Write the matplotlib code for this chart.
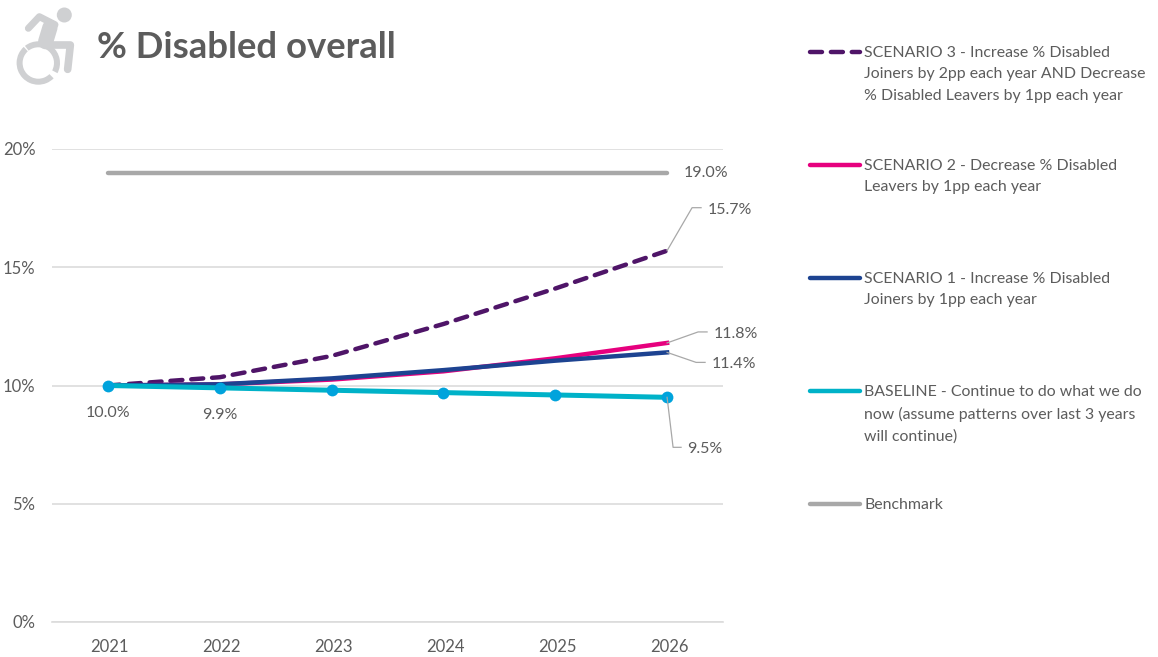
import matplotlib
matplotlib.use("Agg")
import matplotlib.pyplot as plt
from matplotlib.patches import Circle, Wedge
from matplotlib.transforms import ScaledTranslation

years = ["2021", "2022", "2023", "2024", "2025", "2026"]
benchmark = [19.0, 19.0, 19.0, 19.0, 19.0, 19.0]
scenario3 = [10.0, 10.35, 11.25, 12.6, 14.1, 15.7]
scenario2 = [10.0, 10.05, 10.25, 10.6, 11.15, 11.8]
scenario1 = [10.0, 10.05, 10.3, 10.65, 11.05, 11.4]
baseline = [10.0, 9.9, 9.8, 9.7, 9.6, 9.5]

legend_labels = [
    "SCENARIO 3 - Increase % Disabled\nJoiners by 2pp each year AND Decrease\n% Disabled Leavers by 1pp each year",
    "SCENARIO 2 - Decrease % Disabled\nLeavers by 1pp each year",
    "SCENARIO 1 - Increase % Disabled\nJoiners by 1pp each year",
    "BASELINE - Continue to do what we do\nnow (assume patterns over last 3 years\nwill continue)",
    "Benchmark",
]

PURPLE = "#4f1568"
PINK = "#e6007e"
NAVY = "#1d4391"
TEAL = "#00b2c8"
DOT = "#00a3dc"
GREY = "#a8a8a8"
TEXT = "#5c5c5c"
ICON = "#cfd0d2"

W, H = 1158, 657
plt.rcParams["font.family"] = "Lato"
fig = plt.figure(figsize=(W / 100, H / 100), dpi=100)

ax = fig.add_axes([52 / W, 1 - 622 / H, 671 / W, 473 / H])
x = list(range(len(years)))
dash = (2.7, 2.0)

ax.plot(x, benchmark, color=GREY, lw=3.2, solid_capstyle="round", zorder=3)
ax.plot(x, scenario3, color=PURPLE, lw=3.2, dashes=dash, dash_capstyle="round", zorder=3)
ax.plot(x, scenario2, color=PINK, lw=3.2, zorder=3)
ax.plot(x, scenario1, color=NAVY, lw=3.2, zorder=4)
ax.plot(x, baseline, color=TEAL, lw=3.6, zorder=5)
ax.plot(x, baseline, ls="none", marker="o", ms=8.5, color=DOT, mec="none", zorder=6)

ax.set_xlim(-0.5, 5.5)
ax.set_ylim(0, 20)
ax.set_xticks(x, years)
ax.set_yticks([0, 5, 10, 15, 20], ["0%", "5%", "10%", "15%", "20%"])
ax.grid(axis="y", color="#dcdcdc", lw=1.2)
ax.set_axisbelow(True)
ax.tick_params(length=0, labelsize=12, labelcolor=TEXT)
ax.tick_params(axis="x", pad=12)
ax.tick_params(axis="y", pad=12)
for side in ["top", "right", "left"]:
    ax.spines[side].set_visible(False)
ax.spines["bottom"].set_color("#dcdcdc")
ax.spines["bottom"].set_linewidth(1.2)

# year labels sit a touch right of their points
nudge = ScaledTranslation(2 / 100, 0, fig.dpi_scale_trans)
for lbl in ax.get_xticklabels():
    lbl.set_transform(lbl.get_transform() + nudge)

LABEL_SIZE = 11.5
ax.annotate(f"{benchmark[5]:.1f}%", (5, benchmark[5]), xytext=(12, -0.5), textcoords="offset points",
            fontsize=LABEL_SIZE, color=TEXT, va="center", ha="left")
ax.annotate(f"{baseline[0]:.1f}%", (0, baseline[0]), xytext=(0, -19.5), textcoords="offset points",
            fontsize=LABEL_SIZE, color=TEXT, ha="center", va="center")
ax.annotate(f"{baseline[1]:.1f}%", (1, baseline[1]), xytext=(0, -19.5), textcoords="offset points",
            fontsize=LABEL_SIZE, color=TEXT, ha="center", va="center")

# overlay in pixel coordinates for header icon, title, key and leaders
ov = fig.add_axes([0, 0, 1, 1], facecolor="none")
ov.set_xlim(0, W)
ov.set_ylim(H, 0)
ov.axis("off")


def leader(series, dx, dy, stub, gap):
    # elbow leader from the last point, then a short stub to the label
    px, py = ax.transData.transform((5, series[5]))
    py = H - py
    ex, ey = px + dx, py + dy
    ov.plot([px, ex, ex + stub], [py, ey, ey], color=GREY, lw=0.9, zorder=2)
    ov.text(ex + stub + gap, ey + 2, f"{series[5]:.1f}%", fontsize=LABEL_SIZE, color=TEXT,
            va="center", ha="left")


leader(scenario3, 25, -43, 9, 7)
leader(scenario2, 31, -11, 9, 7)
leader(scenario1, 29, 10, 9, 7)
leader(baseline, 6, 50, 8, 6)


# wheelchair icon
def icon_pt(u, v):
    return 5 + u / 3, v / 3


def stroke(points, width):
    xs, ys = zip(*[icon_pt(u, v) for u, v in points])
    ov.plot(xs, ys, color=ICON, lw=width, solid_capstyle="round", solid_joinstyle="round")


ov.add_patch(Circle((64.3, 15), 7.5, color=ICON, lw=0))
centre = (38.3, 63)
ov.add_patch(Wedge(centre, 21.7, 45, 228, width=6, color=ICON, lw=0))
ov.add_patch(Wedge(centre, 21.7, -128, 28, width=6, color=ICON, lw=0))
stroke([(70, 85), (103, 50), (150, 74)], 5)
stroke([(135, 82), (122, 125)], 11)
stroke([(125, 135), (196, 135), (188, 208)], 5.5)

ov.text(97, 47, "% Disabled overall", fontsize=26.3, fontweight="bold", color=TEXT,
        va="center", ha="left")

key_y = [52, 165, 278, 391, 504]
key_color = [PURPLE, PINK, NAVY, TEAL, GREY]
for i, lab in enumerate(legend_labels):
    if i == 0:
        ov.plot([810, 860], [key_y[i], key_y[i]], color=key_color[i], lw=3.2, dashes=dash,
                dash_capstyle="round")
    else:
        ov.plot([810, 860], [key_y[i], key_y[i]], color=key_color[i], lw=3.2, solid_capstyle="round")
    ov.text(864, key_y[i] - 6, lab, fontsize=11.4, color=TEXT, va="top", ha="left", linespacing=1.66)

fig.savefig("out.png", dpi=100)
